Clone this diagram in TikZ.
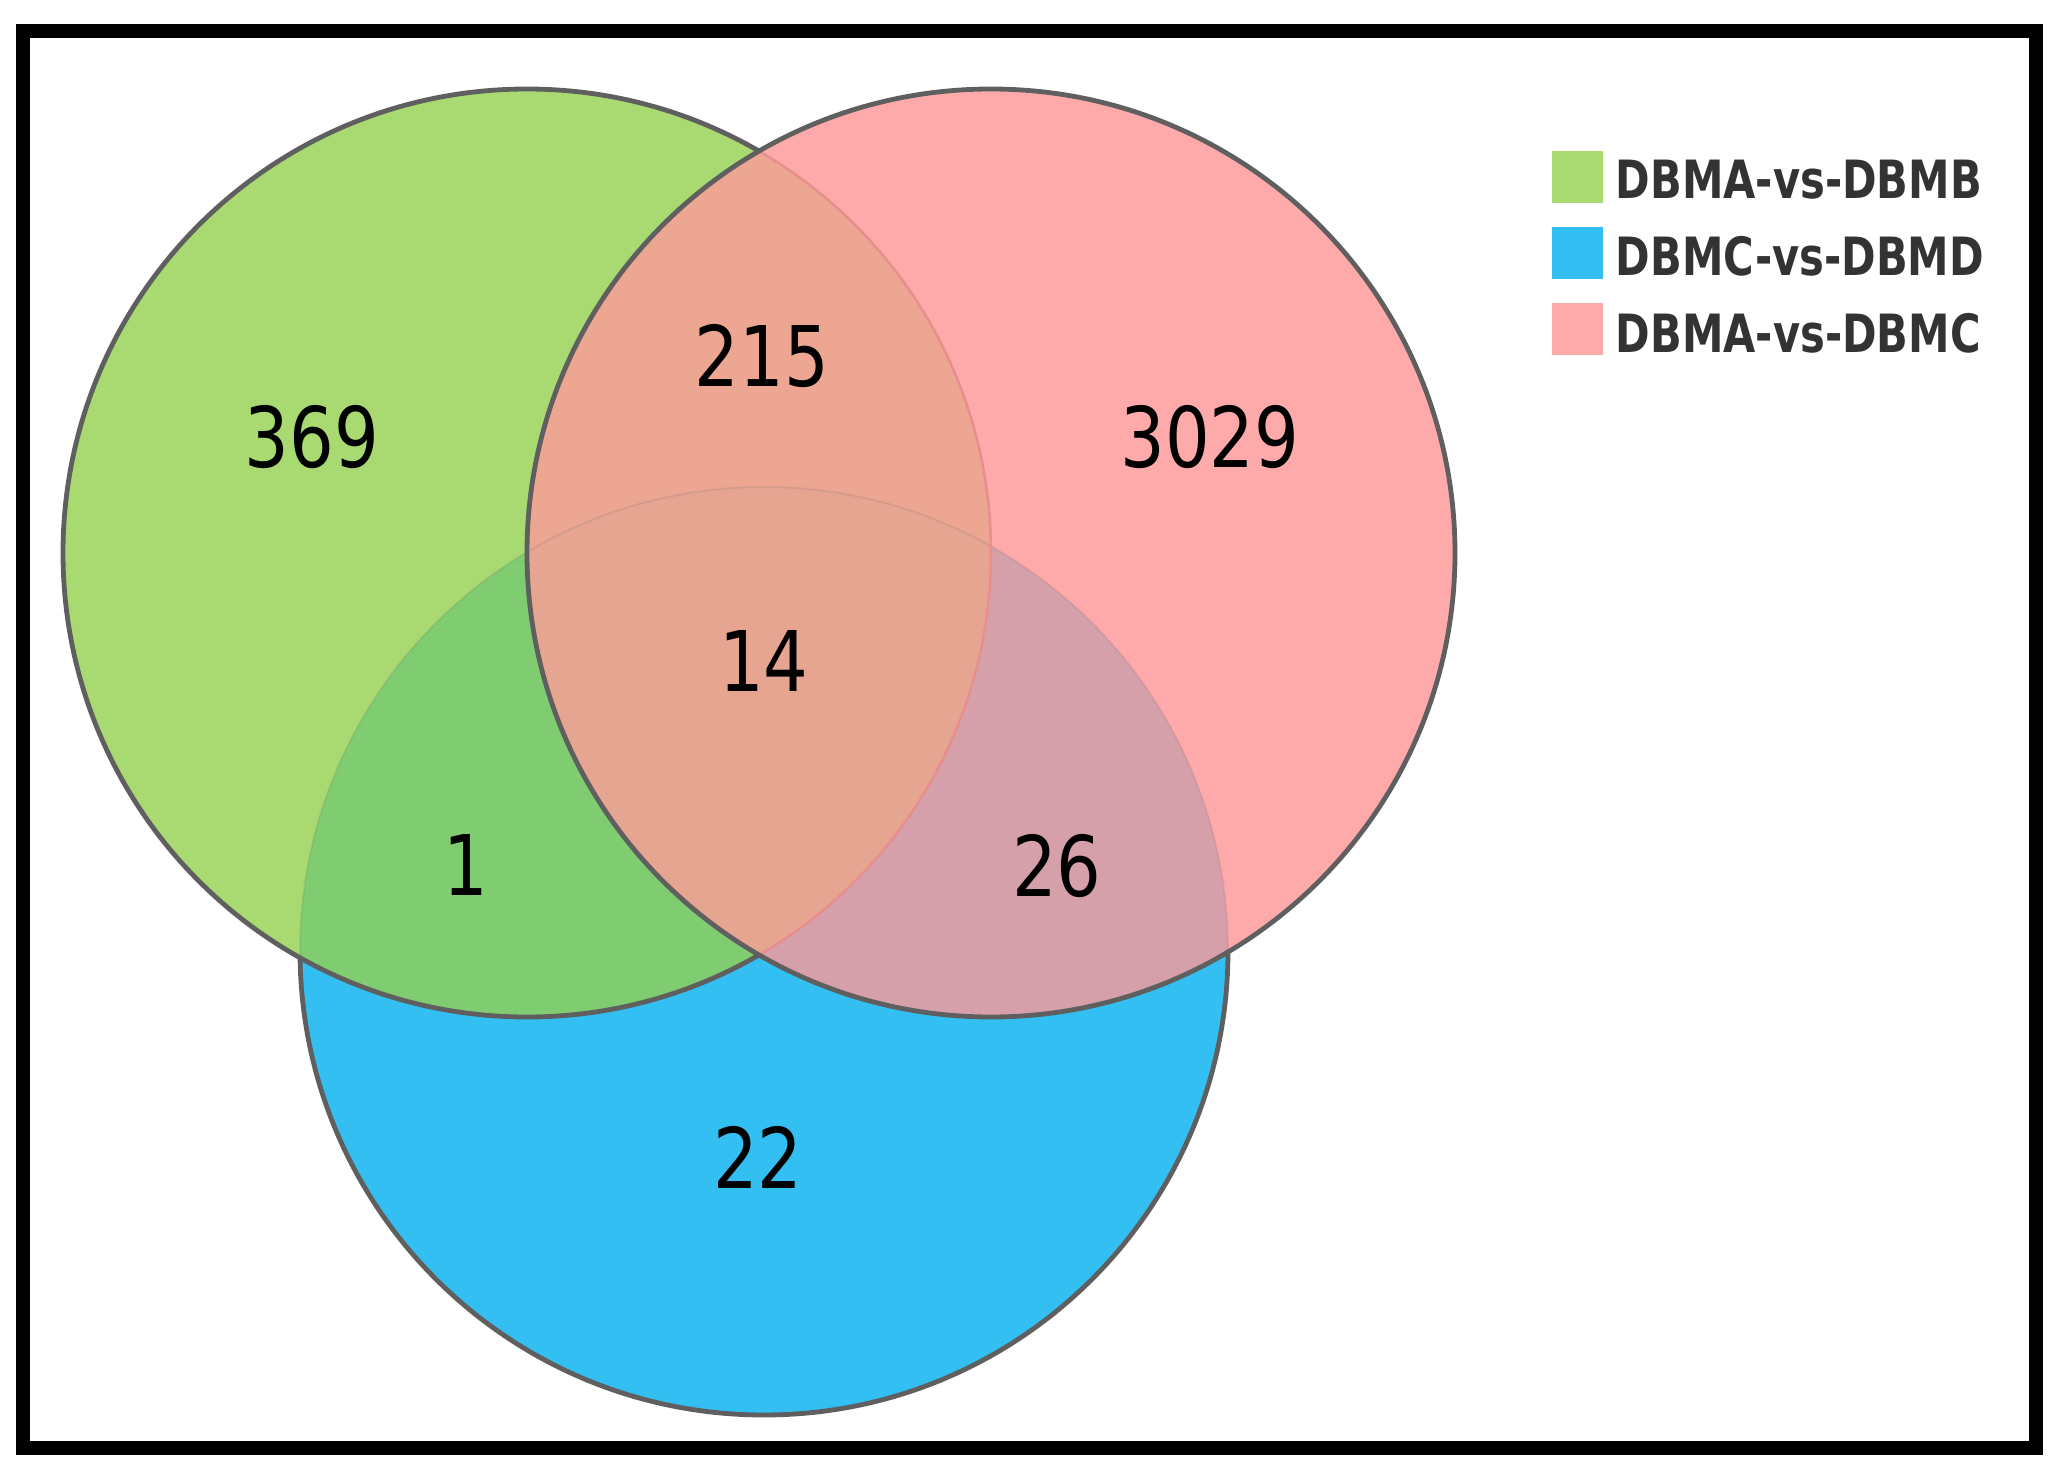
\documentclass[tikz,border=0pt]{standalone}
\usepackage{fontspec}
\setmainfont{DejaVu Sans}
\newfontfamily\numfont[FakeStretch=0.84]{DejaVu Sans}
\newfontfamily\legfont[FakeStretch=0.79]{DejaVu Sans}

\definecolor{setAB}{RGB}{169,217,113}
\definecolor{setCD}{RGB}{51,191,241}
\definecolor{setAC}{RGB}{255,170,170}
\definecolor{mixGB}{RGB}{128,204,112}
\definecolor{mixGP}{RGB}{237,166,145}
\definecolor{mixPB}{RGB}{213,160,170}
\definecolor{mixAll}{RGB}{229,165,145}
\definecolor{rim}{RGB}{95,95,95}
\definecolor{rimpink}{RGB}{232,142,142}
\definecolor{legtext}{RGB}{51,51,51}

\begin{document}
\begin{tikzpicture}[x=0.01cm, y=-0.01cm,
    count/.style={inner sep=0pt, font=\numfont\fontsize{23.8}{28}\selectfont},
    legbox/.style={inner sep=0pt, minimum size=0.51cm},
    legname/.style={anchor=west, inner sep=0pt, text=legtext, font=\legfont\bfseries\fontsize{15}{18}\selectfont},
    rimline/.style={draw=rim, line width=0.048cm}]
    \useasboundingbox (0,0) rectangle (2066,1479);
    \coordinate (gA) at (527,553);
    \coordinate (pA) at (991,553);
    \coordinate (bA) at (764,951);

    % base fills
    \fill[setCD] (bA) circle[radius=464];
    \fill[setAB] (gA) circle[radius=464];
    \fill[setAC] (pA) circle[radius=464];
    % overlaps
    \begin{scope}
        \clip (gA) circle[radius=464];
        \fill[mixGB] (bA) circle[radius=464];
    \end{scope}
    \begin{scope}
        \clip (pA) circle[radius=464];
        \fill[mixGP] (gA) circle[radius=464];
        \fill[mixPB] (bA) circle[radius=464];
        \clip (gA) circle[radius=464];
        \fill[mixAll] (bA) circle[radius=464];
    \end{scope}

    % outlines
    \draw[line width=0.02cm, draw=rim, draw opacity=0.12] (bA) circle[radius=464];
    \begin{scope}[even odd rule]
        \clip (0,0) rectangle (2066,1479) (gA) circle[radius=464];
        \clip (0,0) rectangle (2066,1479) (pA) circle[radius=464];
        \draw[rimline] (bA) circle[radius=464];
    \end{scope}
    \begin{scope}
        \clip (pA) circle[radius=464];
        \draw[line width=0.025cm, draw=rimpink] (gA) circle[radius=464];
    \end{scope}
    \begin{scope}[even odd rule]
        \clip (0,0) rectangle (2066,1479) (pA) circle[radius=464];
        \draw[rimline] (gA) circle[radius=464];
    \end{scope}
    \draw[rimline] (pA) circle[radius=464];

    % counts
    \node[count] (n369) at (312,437) {369};
    \node[count] (n215) at (762,356) {215};
    \node[count] (n3029) at (1210,437) {3029};
    \node[count] (n14) at (764,661) {14};
    \node[count] (n1) at (466,865) {1};
    \node[count] (n26) at (1057,866) {26};
    \node[count] (n22) at (758,1157) {22};

    % legend
    \node[legbox, fill=setAB] (kAB) at (1577,177) {};
    \node[legbox, fill=setCD] (kCD) at (1577,253) {};
    \node[legbox, fill=setAC] (kAC) at (1577,329) {};
    \node[legname] (tAB) at (1615,180) {DBMA-vs-DBMB};
    \node[legname] (tCD) at (1615,256) {DBMC-vs-DBMD};
    \node[legname] (tAC) at (1615,333) {DBMA-vs-DBMC};

    % frame
    \draw[line width=0.14cm] (23,31) rectangle (2036,1448);
\end{tikzpicture}
\end{document}
